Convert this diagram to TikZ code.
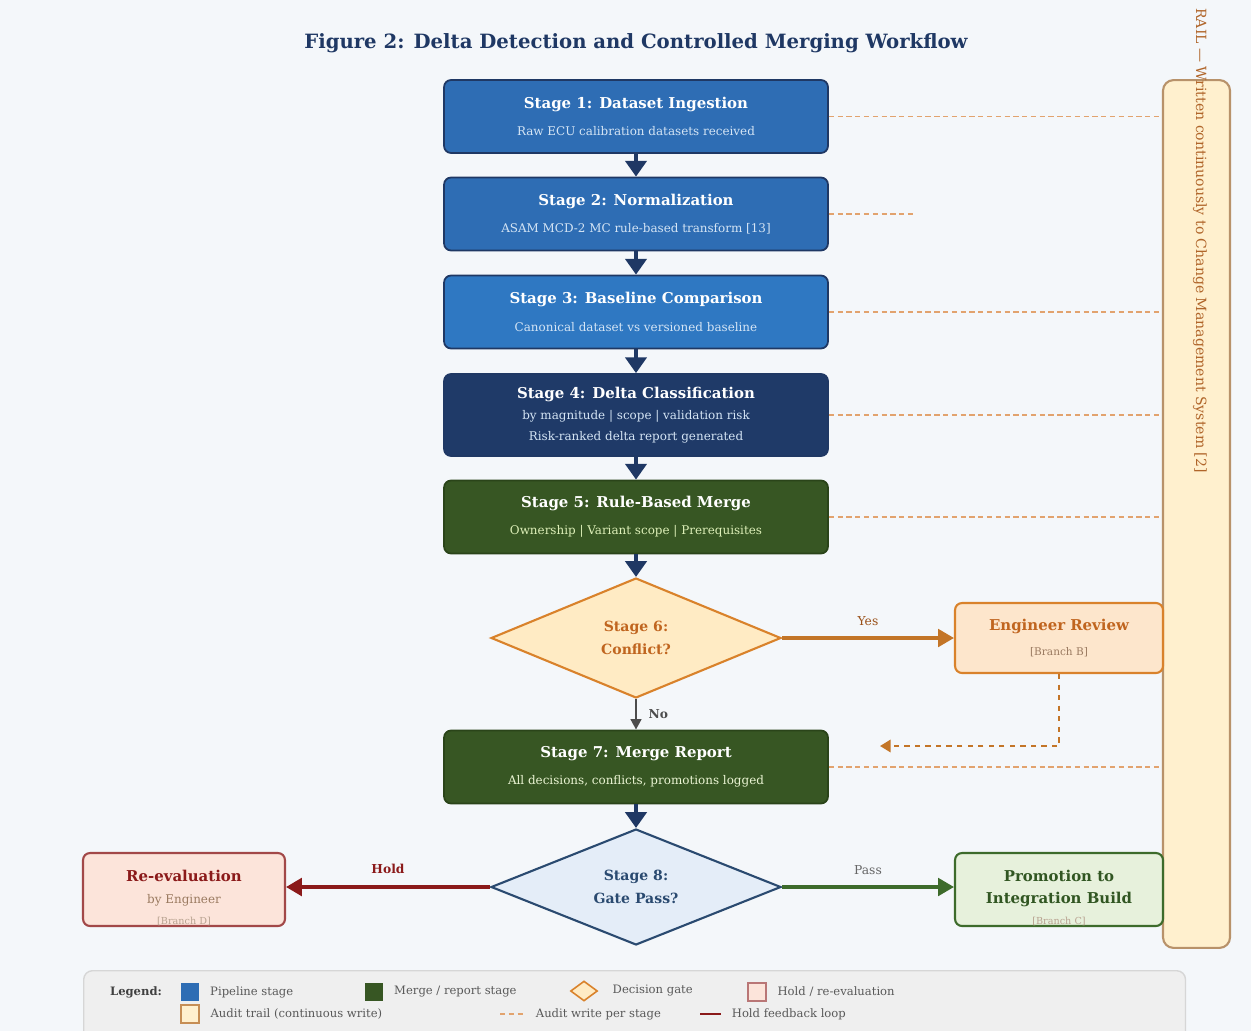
\documentclass[tikz,border=0pt]{standalone}
\usepackage{fontspec}
\setmainfont{DejaVu Serif}
\usepackage{xcolor}
\usepackage{tikz}
\usetikzlibrary{arrows.meta,shapes.geometric}

\definecolor{pagebg}{HTML}{F4F7FA}
\definecolor{navy}{HTML}{1F3864}
\definecolor{pipeblue}{HTML}{2E6DB4}
\definecolor{pipeblue2}{HTML}{2F78C2}
\definecolor{deepblue}{HTML}{1F3A68}
\definecolor{mergegreen}{HTML}{375623}
\definecolor{mergeedge}{HTML}{2A4419}
\definecolor{gateorange}{HTML}{D9822B}
\definecolor{gatetext}{HTML}{C0651F}
\definecolor{gatefill}{HTML}{FFEBC4}
\definecolor{revfill}{HTML}{FDE6CC}
\definecolor{holdred}{HTML}{8B1A1A}
\definecolor{holdfill}{HTML}{FCE4DA}
\definecolor{passgreen}{HTML}{3D6B2B}
\definecolor{passfill}{HTML}{E7F1DC}
\definecolor{gatebluefill}{HTML}{E4EDF8}
\definecolor{gateblue}{HTML}{2A4A70}
\definecolor{railfill}{HTML}{FFF0CE}
\definecolor{railedge}{HTML}{B8926A}
\definecolor{railtext}{HTML}{B0652A}
\definecolor{auditdash}{HTML}{E2A36E}
\definecolor{legendfill}{HTML}{EFEFEF}
\definecolor{legendedge}{HTML}{D6D6D6}
\definecolor{subblue}{HTML}{D5E5F5}
\definecolor{subgreen}{HTML}{DDEFB8}
\definecolor{branchgray}{HTML}{9A7A60}

\newcommand{\stagetitle}[1]{{\fontsize{8.5}{10}\selectfont\bfseries #1}}

\tikzset{
  stagebox/.style={draw=navy, line width=1pt, rounded corners=4pt, minimum width=7.68cm,
    minimum height=1.46cm, align=center, text=white, inner sep=2pt,
    font=\fontsize{6.8}{15.5}\selectfont},
  flow/.style={navy, line width=2.6pt, -{Triangle[width=12pt,length=9pt]}},
  audit/.style={auditdash, line width=0.8pt, dash pattern=on 3pt off 2pt},
  gate/.style={diamond, aspect=2.4, inner sep=0pt, minimum width=5.8cm, minimum height=2.4cm,
    line width=1.2pt, align=center, font=\fontsize{8}{13}\selectfont\bfseries},
  branchbox/.style={rounded corners=4pt, line width=1.2pt, minimum width=4.16cm,
    minimum height=1.4cm, align=center},
  legtext/.style={anchor=west, text=black!65, font=\fontsize{6.6}{8}\selectfont, inner sep=1pt},
}

\begin{document}
\begin{tikzpicture}[x=0.02cm,y=-0.02cm]
  \fill[pagebg] (0,0) rectangle (1251,1031);
  \useasboundingbox (0,0) rectangle (1251,1031);

  \node[text=navy, font=\fontsize{11.2}{14}\selectfont\bfseries] (title) at (636,43)
    {Figure 2: Delta Detection and Controlled Merging Workflow};

  % audit rail on the right
  \node[draw=railedge, fill=railfill, line width=1.2pt, rounded corners=6pt,
    minimum width=1.34cm, minimum height=17.36cm] (rail) at (1196.5,514) {};
  \node[rotate=-90, anchor=west, text=railtext, font=\fontsize{8}{10}\selectfont, inner sep=0pt]
    (railtxt) at (1200,8) {RAIL — Written continuously to Change Management System [2]};

  % pipeline stages
  \node[stagebox, fill=pipeblue] (s1) at (636,116.5)
    {\stagetitle{Stage 1: Dataset Ingestion}\\ \textcolor{subblue}{Raw ECU calibration datasets received}};
  \node[stagebox, fill=pipeblue] (s2) at (636,214)
    {\stagetitle{Stage 2: Normalization}\\ \textcolor{subblue}{ASAM MCD-2 MC rule-based transform [13]}};
  \node[stagebox, fill=pipeblue2] (s3) at (636,312)
    {\stagetitle{Stage 3: Baseline Comparison}\\ \textcolor{subblue}{Canonical dataset vs versioned baseline}};
  \node[stagebox, fill=deepblue, minimum height=1.64cm, font=\fontsize{6.8}{12}\selectfont] (s4) at (636,415)
    {\stagetitle{Stage 4: Delta Classification}\\ \textcolor{subblue}{by magnitude | scope | validation risk}\\
     \textcolor{subblue}{Risk-ranked delta report generated}};
  \node[stagebox, fill=mergegreen, draw=mergeedge] (s5) at (636,517)
    {\stagetitle{Stage 5: Rule-Based Merge}\\ \textcolor{subgreen}{Ownership | Variant scope | Prerequisites}};

  \node[gate, fill=gatefill, draw=gateorange, text=gatetext] (s6) at (636,638) {Stage 6:\\Conflict?};

  \node[branchbox, fill=revfill, draw=gateorange, font=\fontsize{6}{14}\selectfont] (review) at (1059,638)
    {{\fontsize{8.5}{10}\selectfont\bfseries\color{gatetext}Engineer Review}\\ \textcolor{branchgray}{[Branch B]}};

  \node[stagebox, fill=mergegreen, draw=mergeedge] (s7) at (636,767)
    {\stagetitle{Stage 7: Merge Report}\\ \textcolor{subgreen!60!white}{All decisions, conflicts, promotions logged}};

  \node[gate, fill=gatebluefill, draw=gateblue, text=gateblue, minimum height=2.32cm] (s8) at (636,887)
    {Stage 8:\\Gate Pass?};

  \node[branchbox, fill=holdfill, draw=holdred!80, minimum width=4.04cm, minimum height=1.46cm]
    (reeval) at (184,889.5) {};
  \node[align=center, font=\fontsize{6.8}{12}\selectfont, inner sep=0pt] (reevaltxt) at (184,898)
    {{\fontsize{8.5}{10}\selectfont\bfseries\color{holdred}Re-evaluation}\\ \textcolor{branchgray}{by Engineer}\\
     {\fontsize{5.5}{7}\selectfont\color{branchgray!70}[Branch D]}};
  \node[branchbox, fill=passfill, draw=passgreen, minimum height=1.46cm] (promo) at (1059,889.5) {};
  \node[align=center, font=\fontsize{8.5}{12}\selectfont, inner sep=0pt] (promotxt) at (1059,898)
    {{\bfseries\color{passgreen!80!black}Promotion to}\\ {\bfseries\color{passgreen!80!black}Integration Build}\\
     {\fontsize{5.5}{7}\selectfont\color{branchgray!70}[Branch C]}};

  % main flow
  \draw[flow] (s1) -- (s2);
  \draw[flow] (s2) -- (s3);
  \draw[flow] (s3) -- (s4);
  \draw[flow] (s4) -- (s5);
  \draw[flow] (s5) -- (s6);
  \draw[flow] (s7) -- (s8);
  \draw[black!70, line width=1.6pt, -{Triangle[width=6pt,length=6pt]}] (s6.south) -- (s7.north)
    node[midway, right=3pt, text=black!70, font=\fontsize{7}{8}\selectfont\bfseries] {No};

  \draw[gateorange!90!black, line width=1.8pt, -{Triangle[width=10pt,length=9pt]}] (s6.east) -- (s6.east -| review.west)
    node[midway, above=3pt, text=gatetext!80!black, font=\fontsize{7}{8}\selectfont] {Yes};
  \coordinate (backin) at (880,746);
  \draw[gateorange!90!black, line width=1.2pt, dashed, -{Triangle[width=7pt,length=6pt]}]
    (review.south) |- (backin);

  \draw[holdred, line width=2pt, -{Triangle[width=10pt,length=9pt]}] (s8.west) -- (s8.west -| reeval.east)
    node[midway, above=3pt, text=holdred, font=\fontsize{7}{8}\selectfont\bfseries] {Hold};
  \draw[passgreen, line width=1.8pt, -{Triangle[width=10pt,length=9pt]}] (s8.east) -- (s8.east -| promo.west)
    node[midway, above=3pt, text=black!60, font=\fontsize{7}{8}\selectfont] {Pass};

  % audit writes per stage
  \foreach \st in {s1,s3,s4,s5,s7}
    \draw[audit] (\st.east) -- (\st.east -| rail.west);
  \coordinate (s2stub) at (915,214);
  \draw[audit] (s2.east) -- (s2stub);

  % legend
  \node[draw=legendedge, fill=legendfill, rounded corners=5pt, line width=0.8pt,
    minimum width=22.04cm, minimum height=1.6cm, anchor=north west] (legend) at (83,970) {};
  \node[anchor=west, font=\fontsize{6.6}{8}\selectfont\bfseries, text=black!75, inner sep=1pt] (legtitle) at (108,992) {Legend:};
  \node[fill=pipeblue, minimum size=0.36cm, inner sep=0pt] (kpipe) at (190,992) {};
  \node[legtext] (lpipe) at (kpipe.east) [xshift=5pt] {Pipeline stage};
  \node[fill=mergegreen, minimum size=0.36cm, inner sep=0pt] (kmerge) at (374,992) {};
  \node[legtext] (lmerge) at (kmerge.east) [xshift=5pt] {Merge / report stage};
  \node[diamond, aspect=1.35, fill=gatefill, draw=gateorange, line width=0.9pt, inner sep=0pt,
    minimum width=0.54cm, minimum height=0.4cm] (kgate) at (584,991) {};
  \node[legtext] (lgate) at (kgate.east) [xshift=7pt] {Decision gate};
  \node[fill=holdfill, draw=holdred!60, line width=0.8pt, minimum size=0.36cm, inner sep=0pt] (khold) at (757,992) {};
  \node[legtext] (lhold) at (khold.east) [xshift=5pt] {Hold / re-evaluation};
  \node[fill=railfill, draw=railedge!80!orange, line width=0.8pt, minimum size=0.36cm, inner sep=0pt] (krail) at (190,1014) {};
  \node[legtext] (lrail) at (krail.east) [xshift=5pt] {Audit trail (continuous write)};
  \coordinate (kdashA) at (500,1014);
  \coordinate (kdashB) at (525,1014);
  \draw[audit] (kdashA) -- (kdashB);
  \node[legtext] (ldash) at (kdashB) [xshift=5pt] {Audit write per stage};
  \coordinate (kloopA) at (700,1014);
  \coordinate (kloopB) at (721,1014);
  \draw[holdred, line width=1.6pt] (kloopA) -- (kloopB);
  \node[legtext] (lloop) at (kloopB) [xshift=5pt] {Hold feedback loop};
\end{tikzpicture}
\end{document}
